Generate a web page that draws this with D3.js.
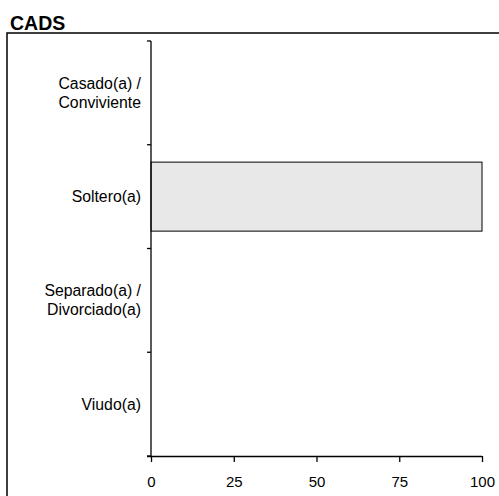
<!DOCTYPE html>
<html><head><meta charset="utf-8">
<script src="https://cdn.jsdelivr.net/npm/d3@7"></script>
<style>html,body{margin:0;padding:0;background:#fff;}</style>
</head><body>
<svg id="chart" width="499" height="496"></svg>
<script>
const title = "CADS";
const categories = ["Casado(a) / Conviviente", "Soltero(a)", "Separado(a) / Divorciado(a)", "Viudo(a)"];
const categoryLines = [["Casado(a) /", "Conviviente"], ["Soltero(a)"], ["Separado(a) /", "Divorciado(a)"], ["Viudo(a)"]];
const values = [0, 100, 0, 0];
const xTicks = [0, 25, 50, 75, 100];

const svg = d3.select("#chart");
const font = "Liberation Sans, Arial, Helvetica, sans-serif";
const mLeft = 151, mRight = 482, mTop = 41, mBottom = 456;

svg.append("text").attr("x", 10).attr("y", 30).text(title)
  .attr("font-family", font).attr("font-weight", "bold").attr("font-size", 19.5).attr("fill", "#000");

// frame (top and left visible)
svg.append("path").attr("d", "M7,497 L7,33 L500,33").attr("fill", "none").attr("stroke", "#000").attr("stroke-width", 1.5);

const x = d3.scaleLinear().domain([0, 100]).range([mLeft, mRight]);
const y = d3.scaleBand().domain(categories).range([mTop, mBottom]).paddingInner(0.335).paddingOuter(0.1675);

// bars
svg.append("g").selectAll("rect").data(categories).join("rect")
  .attr("x", x(0)).attr("y", d => y(d))
  .attr("width", (d, i) => x(values[i]) - x(0))
  .attr("height", y.bandwidth())
  .attr("fill", "#e8e8e8")
  .attr("stroke", (d, i) => values[i] > 0 ? "#000" : "none")
  .attr("stroke-width", 1);

// x axis
const xAxis = d3.axisBottom(x).tickValues(xTicks).tickSize(6).tickSizeOuter(0).tickPadding(5);
const gx = svg.append("g").attr("transform", `translate(0,${mBottom})`).call(xAxis);
gx.select(".domain").attr("d", `M${mLeft - 4},0.5H${mRight}`).attr("stroke", "#000").attr("stroke-width", 1.3);
gx.selectAll(".tick line").attr("stroke", "#000").attr("stroke-width", 1.3);
gx.selectAll(".tick text").attr("font-family", font).attr("font-size", 15).attr("fill", "#000").attr("dy", "1.3em");

// y axis
const gy = svg.append("g").attr("transform", `translate(${mLeft},0)`);
gy.append("line").attr("x1", 0).attr("x2", 0).attr("y1", mTop).attr("y2", mBottom).attr("stroke", "#000").attr("stroke-width", 1.3);
const boundaries = d3.range(categories.length + 1).map(i => mTop + i * (mBottom - mTop) / categories.length);
gy.selectAll("line.tk").data(boundaries).join("line").attr("class", "tk")
  .attr("x1", -4).attr("x2", 0)
  .attr("y1", d => d).attr("y2", d => d)
  .attr("stroke", "#000").attr("stroke-width", 1.3);

const lh = 19;
const labels = gy.selectAll("text.cat").data(categories).join("text").attr("class", "cat")
  .attr("text-anchor", "end").attr("font-family", font).attr("font-size", 15.8).attr("fill", "#000");
labels.each(function(d, i) {
  const lines = categoryLines[i];
  const cy = y(d) + y.bandwidth() / 2;
  const t = d3.select(this);
  lines.forEach((ln, j) => {
    t.append("tspan").attr("x", -10).attr("y", cy + (j - (lines.length - 1) / 2) * lh).attr("dy", "0.35em").text(ln);
  });
});
</script>
</body></html>
